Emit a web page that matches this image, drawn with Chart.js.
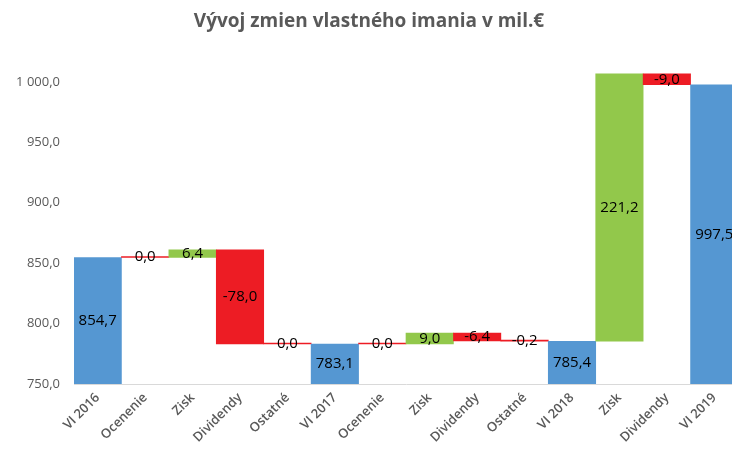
<!DOCTYPE html>
<html>
<head>
<meta charset="utf-8">
<script src="https://cdn.jsdelivr.net/npm/chart.js@4.4.1/dist/chart.umd.min.js"></script>
<style>
  html, body { margin: 0; padding: 0; background: #fff; overflow: hidden; }
  #wrap { width: 732px; height: 450px; overflow: hidden; }
</style>
</head>
<body>
<div id="wrap"><canvas id="equityChart" width="760" height="450"></canvas></div>
<script>
// categories and values (mil. €)
const categories = ['VI 2016', 'Ocenenie', 'Zisk', 'Dividendy', 'Ostatné', 'VI 2017', 'Ocenenie', 'Zisk', 'Dividendy', 'Ostatné', 'VI 2018', 'Zisk', 'Dividendy', 'VI 2019'];
const changes = [854.7, 0.0, 6.4, -78.0, 0.0, 783.1, 0.0, 9.0, -6.4, -0.2, 785.4, 221.2, -9.0, 997.5];
const isTotal = [true, false, false, false, false, true, false, false, false, false, true, false, false, true];
const yTicks = [750, 800, 850, 900, 950, 1000];

const blue = '#5597D2';
const green = '#92C84B';
const red = '#ED1C24';

// build floating bars from the running total
let running = 0;
const ranges = [];
const colors = [];
changes.forEach((v, i) => {
    if (isTotal[i]) {
        running = v;
        ranges.push([0, v]);
        colors.push(blue);
    } else {
        ranges.push([running, running + v]);
        running += v;
        colors.push(v > 0 ? green : red);
    }
});

function fmt(v) {
    const parts = Math.abs(v).toFixed(1).split('.');
    const whole = parts[0].replace(/\B(?=(\d{3})+(?!\d))/g, ' ');
    return (v < 0 ? '-' : '') + whole + ',' + parts[1];
}

// value labels in the middle of the visible part of each bar
const valueLabels = {
    id: 'valueLabels',
    afterDatasetsDraw(chart) {
        const ctx = chart.ctx;
        const area = chart.chartArea;
        const meta = chart.getDatasetMeta(0);
        ctx.save();
        ctx.font = '15px "Open Sans"';
        ctx.fillStyle = '#000';
        ctx.textAlign = 'center';
        ctx.textBaseline = 'middle';
        meta.data.forEach((bar, i) => {
            const top = Math.max(Math.min(bar.y, bar.base), area.top);
            const bottom = Math.min(Math.max(bar.y, bar.base), area.bottom);
            ctx.fillText(fmt(changes[i]), bar.x, (top + bottom) / 2);
        });
        ctx.restore();
    }
};

const ctx = document.getElementById('equityChart').getContext('2d');
const equityChart = new Chart(ctx, {
    type: 'bar',
    data: {
        labels: categories,
        datasets: [{
            data: ranges,
            backgroundColor: colors,
            borderWidth: 0,
            minBarLength: 1,
            categoryPercentage: 1.0,
            barPercentage: 1.0
        }]
    },
    options: {
        responsive: false,
        animation: false,
        devicePixelRatio: 1,
        layout: { padding: { right: 22 } },
        plugins: {
            legend: { display: false },
            tooltip: { enabled: false },
            title: {
                display: true,
                text: 'Vývoj zmien vlastného imania v mil.€',
                color: '#595959',
                font: { family: 'Open Sans', size: 19, weight: 'bold' },
                padding: { top: 10, bottom: 37 }
            }
        },
        scales: {
            x: {
                grid: { display: false, drawTicks: false },
                border: { color: '#d9d9d9', width: 1 },
                ticks: {
                    color: '#595959',
                    font: { family: 'Open Sans', size: 13, weight: '600' },
                    minRotation: 45,
                    maxRotation: 45,
                    padding: 6,
                    autoSkip: false
                },
                afterFit(scale) { scale.height = 66; }
            },
            y: {
                min: 750,
                max: 1010,
                grid: { display: false, drawTicks: false },
                border: { display: false },
                ticks: {
                    color: '#595959',
                    font: { family: 'Open Sans', size: 13 },
                    padding: 14,
                    callback: (v) => fmt(v)
                },
                afterBuildTicks(scale) {
                    scale.ticks = yTicks.map(v => ({ value: v }));
                },
                afterFit(scale) { scale.width = 74; }
            }
        }
    },
    plugins: [valueLabels]
});
</script>
</body>
</html>
